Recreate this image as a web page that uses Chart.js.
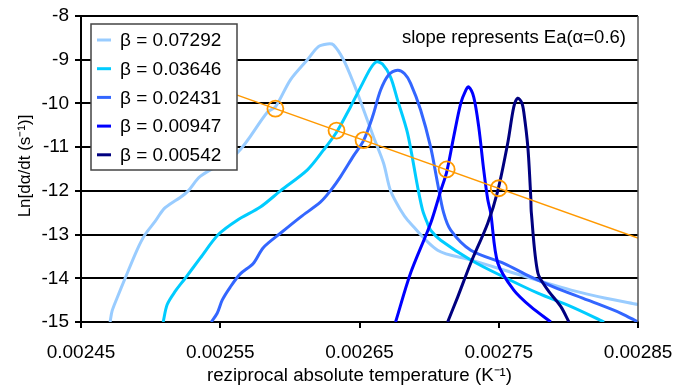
<!DOCTYPE html>
<html>
<head>
<meta charset="utf-8">
<script src="https://cdn.jsdelivr.net/npm/chart.js@4/dist/chart.umd.min.js"></script>
<style>
  html, body { margin: 0; padding: 0; background: #fff; }
  #wrap { width: 674px; height: 389px; }
</style>
</head>
<body>
<div id="wrap"><canvas id="c" width="674" height="389"></canvas></div>
<script>
// heating rates (legend labels)
var labels = ["β = 0.07292", "β = 0.03646", "β = 0.02431", "β = 0.00947", "β = 0.00542"];
var colors = ["#99ccff", "#00ccff", "#3366ff", "#0000ff", "#000080"];

// reciprocal temperature (1/K) and ln(dα/dt)
var x1 = [0.0024709, 0.0024723, 0.0024759, 0.0024817, 0.0024903, 0.002496, 0.0025032, 0.002509, 0.002514, 0.0025212, 0.002527, 0.0025356, 0.0025622, 0.0025838, 0.0025896, 0.0026004, 0.0026126, 0.0026205, 0.002627, 0.0026313, 0.0026385, 0.0026457, 0.0026522, 0.0026601, 0.0026673, 0.0026723, 0.0026795, 0.0026846, 0.0027061, 0.0027299, 0.0027536, 0.0027773, 0.002802, 0.002826, 0.002850];
var y1 = [-15.0, -14.75, -14.45, -14.0, -13.35, -13.0, -12.7, -12.43, -12.3, -12.15, -12.0, -11.67, -11.13, -10.2, -10.08, -9.46, -9.0, -8.7, -8.64, -8.66, -9.0, -9.53, -10.08, -10.77, -11.37, -12.0, -12.44, -12.67, -13.36, -13.58, -13.81, -14.04, -14.27, -14.45, -14.6];

var x2 = [0.002509, 0.0025119, 0.0025176, 0.0025248, 0.0025356, 0.0025486, 0.0025622, 0.0025788, 0.0025932, 0.0026126, 0.0026241, 0.0026335, 0.0026435, 0.0026522, 0.0026579, 0.0026622, 0.0026665, 0.0026723, 0.0026773, 0.0026845, 0.0026917, 0.0026953, 0.0026989, 0.0027011, 0.0027083, 0.0027299, 0.0027536, 0.0027781, 0.002802, 0.0028257];
var y2 = [-15.0, -14.6, -14.3, -14.0, -13.54, -13.0, -12.67, -12.37, -12.0, -11.52, -11.07, -10.66, -10.08, -9.54, -9.2, -9.05, -9.1, -9.4, -9.92, -10.68, -11.9, -12.44, -12.75, -12.9, -13.13, -13.58, -13.97, -14.34, -14.65, -15.0];

var x3 = [0.0025435, 0.0025478, 0.0025514, 0.0025572, 0.0025644, 0.0025737, 0.0025809, 0.0025932, 0.0026076, 0.0026219, 0.0026291, 0.0026363, 0.0026457, 0.0026529, 0.0026594, 0.0026651, 0.0026709, 0.0026773, 0.0026824, 0.0026867, 0.0026939, 0.0027011, 0.0027061, 0.0027104, 0.0027155, 0.0027299, 0.0027536, 0.002773, 0.0027896, 0.002814, 0.0028378, 0.002850];
var y3 = [-15.0, -14.8, -14.5, -14.2, -13.9, -13.66, -13.3, -12.97, -12.6, -12.26, -12.0, -11.68, -11.2, -10.85, -10.3, -9.7, -9.35, -9.24, -9.32, -9.54, -10.15, -11.0, -11.83, -12.5, -12.9, -13.36, -13.66, -13.97, -14.2, -14.5, -14.8, -15.0];

var x4 = [0.0026759, 0.0026867, 0.0027011, 0.0027083, 0.0027126, 0.0027176, 0.0027227, 0.0027263, 0.0027284, 0.002732, 0.0027356, 0.0027392, 0.0027421, 0.0027442, 0.0027493, 0.0027608, 0.002773, 0.0027874];
var y4 = [-15.0, -13.88, -12.74, -12.0, -11.57, -10.77, -10.0, -9.7, -9.62, -9.85, -10.53, -11.52, -12.2, -12.5, -13.65, -14.27, -14.65, -15.0];

var x5 = [0.0027133, 0.0027205, 0.0027299, 0.0027421, 0.0027493, 0.0027565, 0.0027608, 0.0027637, 0.0027665, 0.002768, 0.0027709, 0.002773, 0.0027734, 0.0027781, 0.0027853, 0.0027946, 0.0028004];
var y5 = [-15.0, -14.43, -13.65, -12.74, -12.0, -10.9, -10.08, -9.88, -9.98, -10.2, -11.0, -12.15, -12.5, -13.88, -14.27, -14.65, -15.0];

// isoconversional line (α = 0.6) and its crossings
var slopeX = [0.0025622, 0.00285];
var slopeY = [-9.81, -13.08];
var crossX = [0.0025896, 0.0026335, 0.0026529, 0.0027126, 0.00275];
var crossY = [-10.12, -10.62, -10.84, -11.51, -11.94];

var xTicks = [0.00245, 0.00255, 0.00265, 0.00275, 0.00285];
var yMin = -15, yMax = -8;

function pts(xs, ys) {
  return xs.map(function (x, i) { return { x: x, y: ys[i] }; });
}

var FONT = "'Liberation Sans', Arial, sans-serif";
var series = [[x1, y1], [x2, y2], [x3, y3], [x4, y4], [x5, y5]];

var datasets = series.map(function (s, i) {
  return {
    label: labels[i],
    data: pts(s[0], s[1]),
    showLine: true,
    borderColor: colors[i],
    backgroundColor: colors[i],
    borderWidth: 3,
    pointRadius: 0,
    tension: 0.3,
    order: 5 - i
  };
});
datasets.push({
  label: "slope",
  data: pts(slopeX, slopeY),
  showLine: true,
  borderColor: "#ff9900",
  borderWidth: 1.5,
  pointRadius: 0,
  order: -1
});
datasets.push({
  label: "cross",
  data: pts(crossX, crossY),
  showLine: false,
  borderColor: "#ff9900",
  backgroundColor: "rgba(0,0,0,0)",
  borderWidth: 1.8,
  pointRadius: 8,
  pointHoverRadius: 8,
  order: -2
});

var boxLegend = {
  id: "boxLegend",
  afterDatasetsDraw: function (chart) {
    var ctx = chart.ctx;
    var a = chart.chartArea;
    ctx.save();
    // right frame line
    ctx.strokeStyle = "#555";
    ctx.lineWidth = 1.5;
    ctx.beginPath();
    ctx.moveTo(a.right, a.top);
    ctx.lineTo(a.right, a.bottom);
    ctx.stroke();

    // legend box
    ctx.fillStyle = "#fff";
    ctx.fillRect(91, 24, 146, 146);
    ctx.strokeStyle = "#444";
    ctx.lineWidth = 1.5;
    ctx.strokeRect(91, 24, 146, 146);
    ctx.font = "19px " + FONT;
    ctx.textBaseline = "middle";
    ctx.textAlign = "left";
    for (var i = 0; i < labels.length; i++) {
      var y = 40 + i * 28.7;
      ctx.strokeStyle = colors[i];
      ctx.lineWidth = 3;
      ctx.beginPath();
      ctx.moveTo(97, y);
      ctx.lineTo(111, y);
      ctx.stroke();
      ctx.fillStyle = "#000";
      ctx.fillText(labels[i], 120, y + 1);
    }

    // note in the corner
    ctx.font = "18.5px " + FONT;
    ctx.textAlign = "right";
    ctx.fillText("slope represents Ea(α=0.6)", 626, 38);

    // y axis title
    ctx.font = "17px " + FONT;
    ctx.translate(25, 166);
    ctx.rotate(-Math.PI / 2);
    ctx.textAlign = "center";
    ctx.fillText("Ln[dα/dt (s⁻¹)]", 0, 0);
    ctx.restore();
  }
};

new Chart(document.getElementById("c"), {
  type: "scatter",
  data: { datasets: datasets },
  plugins: [boxLegend],
  options: {
    responsive: false,
    animation: false,
    layout: { padding: { top: 16, right: 36, left: 0, bottom: 0 } },
    plugins: { legend: { display: false }, tooltip: { enabled: false } },
    scales: {
      x: {
        type: "linear",
        min: xTicks[0],
        max: xTicks[xTicks.length - 1],
        afterBuildTicks: function (s) { s.ticks = xTicks.map(function (v) { return { value: v }; }); },
        afterFit: function (s) { s.height = 67; s.paddingLeft = 0; s.paddingRight = 0; },
        ticks: {
          color: "#000",
          font: { family: FONT, size: 19 },
          padding: 13,
          maxRotation: 0,
          callback: function (v) { return Number(v).toFixed(5); }
        },
        grid: { drawOnChartArea: false, drawTicks: true, tickLength: 6, color: "#000", lineWidth: 2 },
        border: { color: "#000", width: 2 },
        title: {
          display: true,
          text: "reziprocal absolute temperature (K⁻¹)",
          color: "#000",
          font: { family: FONT, size: 18.7 },
          padding: { top: 0, bottom: 2 }
        }
      },
      y: {
        min: yMin,
        max: yMax,
        afterFit: function (s) { s.width = 81; s.paddingTop = 0; s.paddingBottom = 0; },
        ticks: {
          stepSize: 1,
          color: "#000",
          font: { family: FONT, size: 19 },
          padding: 6
        },
        grid: { color: "#000", lineWidth: 2, tickLength: 6 },
        border: { color: "#000", width: 2 }
      }
    }
  }
});
</script>
</body>
</html>
